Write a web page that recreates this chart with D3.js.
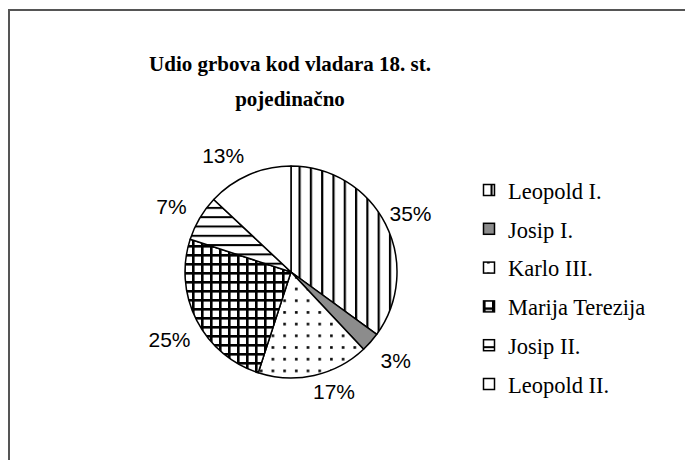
<!DOCTYPE html>
<html>
<head>
<meta charset="utf-8">
<script src="https://cdn.jsdelivr.net/npm/d3@7"></script>
<style>
  body { margin: 0; background: #fff; }
</style>
</head>
<body>
<script>
'use strict';

const rulers = ['Leopold I.', 'Josip I.', 'Karlo III.', 'Marija Terezija', 'Josip II.', 'Leopold II.'];
const shares = [35, 3, 17, 25, 7, 13];
const fills = ['url(#vlines)', '#8c8c8c', 'url(#dots)', 'url(#grid)', 'url(#hlines)', '#fff'];
const titleLines = ['Udio grbova kod vladara 18. st.', 'pojedinačno'];

const width = 685, height = 460;
const cx = 291, cy = 272, radius = 106;

const svg = d3.select('body')
    .append('svg')
    .attr('width', width)
    .attr('height', height);

// hatch patterns
const defs = svg.append('defs');

let p = defs.append('pattern').attr('id', 'vlines')
    .attr('patternUnits', 'userSpaceOnUse').attr('width', 11.3).attr('height', 10)
    .attr('x', cx - 1);
p.append('rect').attr('width', 11.3).attr('height', 10).attr('fill', '#fff');
p.append('rect').attr('x', 0).attr('width', 2.2).attr('height', 10).attr('fill', '#000');

p = defs.append('pattern').attr('id', 'hlines')
    .attr('patternUnits', 'userSpaceOnUse').attr('width', 10).attr('height', 9.3);
p.append('rect').attr('width', 10).attr('height', 9.3).attr('fill', '#fff');
p.append('rect').attr('y', 0).attr('width', 10).attr('height', 2).attr('fill', '#000');

p = defs.append('pattern').attr('id', 'grid')
    .attr('patternUnits', 'userSpaceOnUse').attr('width', 9).attr('height', 9);
p.append('rect').attr('width', 9).attr('height', 9).attr('fill', '#fff');
p.append('rect').attr('width', 9).attr('height', 2.6).attr('fill', '#000');
p.append('rect').attr('width', 2.6).attr('height', 9).attr('fill', '#000');

p = defs.append('pattern').attr('id', 'dots')
    .attr('patternUnits', 'userSpaceOnUse').attr('width', 11.7).attr('height', 11.7);
p.append('rect').attr('width', 11.7).attr('height', 11.7).attr('fill', '#fff');
p.append('rect').attr('x', 4).attr('y', 4).attr('width', 2.6).attr('height', 2.6).attr('fill', '#000');

// frame
svg.append('path')
    .attr('d', `M9,${height} V10 H${width}`)
    .attr('fill', 'none')
    .attr('stroke', '#555')
    .attr('stroke-width', 2);

// title
svg.append('text')
    .attr('x', 290)
    .attr('y', 71)
    .attr('text-anchor', 'middle')
    .style('font-family', '"Liberation Serif", "Times New Roman", serif')
    .style('font-weight', 'bold')
    .style('font-size', '21px')
    .selectAll('tspan')
    .data(titleLines)
    .enter().append('tspan')
        .attr('x', 290)
        .attr('dy', (d, i) => i ? 35 : 0)
        .text(d => d);

const data = rulers.map((name, i) => ({name, value: shares[i], fill: fills[i]}));

const pie = d3.pie().sort(null).value(d => d.value);
const arcs = pie(data);
const arc = d3.arc().innerRadius(0).outerRadius(radius);
const labelArc = d3.arc().innerRadius(radius + 27).outerRadius(radius + 27);

const g = svg.append('g').attr('transform', `translate(${cx},${cy})`);

g.selectAll('path.slice')
    .data(arcs)
    .enter().append('path')
        .attr('class', 'slice')
        .attr('d', arc)
        .attr('fill', d => d.data.fill)
        .attr('stroke', '#000')
        .attr('stroke-width', 1.5)
        .attr('stroke-linejoin', 'round');

// small nudges like the Excel best-fit placement
const nudge = [[1, 2], [5, 1], [14, -10], [-3, 7], [-5, 2], [-15, 6]];

g.selectAll('text.pct')
    .data(arcs)
    .enter().append('text')
        .attr('class', 'pct')
        .attr('transform', (d, i) => {
            const c = labelArc.centroid(d);
            return `translate(${c[0] + nudge[i][0]},${c[1] + nudge[i][1]})`;
        })
        .attr('text-anchor', 'middle')
        .attr('dy', '0.35em')
        .style('font-family', '"Liberation Sans", Arial, sans-serif')
        .style('font-size', '21px')
        .text(d => d.data.value + '%');

// legend
const legendY = d3.scalePoint()
    .domain(rulers)
    .range([191, 385]);

const legend = svg.append('g')
    .selectAll('g')
    .data(data)
    .enter().append('g')
        .attr('transform', d => `translate(483,${legendY(d.name)})`);

legend.append('rect')
    .attr('x', 0.5)
    .attr('y', -6.5)
    .attr('width', 11)
    .attr('height', 11)
    .attr('fill', d => d.fill)
    .attr('stroke', '#000')
    .attr('stroke-width', 1.5);

legend.append('text')
    .attr('x', 25)
    .attr('dy', '0.35em')
    .style('font-family', '"Liberation Serif", "Times New Roman", serif')
    .style('font-size', '22.5px')
    .text(d => d.name);
</script>
</body>
</html>
